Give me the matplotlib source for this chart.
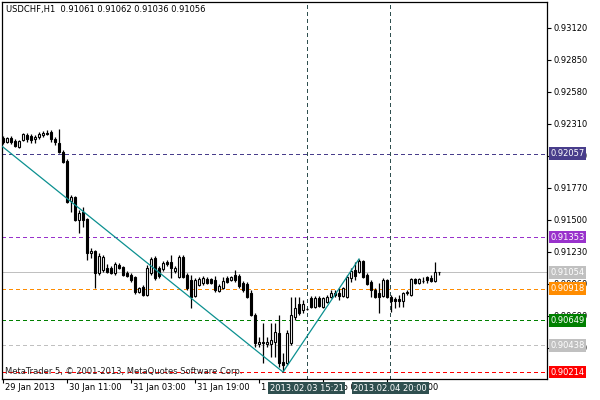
import matplotlib
matplotlib.use("Agg")
import matplotlib.pyplot as plt

# hourly USDCHF candles, oldest first
opens = [0.92189, 0.92156, 0.92189, 0.92164, 0.92113, 0.92172, 0.92215, 0.92206, 0.92181, 0.92198,
         0.92215, 0.92231, 0.92240, 0.92181, 0.92147, 0.92071, 0.91995, 0.91658, 0.91691, 0.91497,
         0.91565, 0.91506, 0.91219, 0.91236, 0.91050, 0.91075, 0.91092, 0.91092, 0.91050, 0.91117,
         0.91101, 0.91050, 0.91033, 0.91016, 0.90890, 0.90932, 0.90864, 0.91050, 0.91177, 0.91092,
         0.91084, 0.91143, 0.91143, 0.91067, 0.91016, 0.91185, 0.91033, 0.90991, 0.90856, 0.90949,
         0.90965, 0.90999, 0.90999, 0.90991, 0.90898, 0.90923, 0.91008, 0.90991, 0.91033, 0.91025,
         0.90965, 0.90957, 0.90881, 0.90695, 0.90451, 0.90468, 0.90451, 0.90451, 0.90468, 0.90544,
         0.90299, 0.90290, 0.90459, 0.90679, 0.90788, 0.90738, 0.90746, 0.90839, 0.90763, 0.90839,
         0.90763, 0.90805, 0.90847, 0.90881, 0.90881, 0.90856, 0.90847, 0.91008, 0.91075, 0.91058,
         0.91151, 0.91033, 0.90974, 0.90906, 0.90881, 0.90856, 0.90991, 0.90847, 0.90830, 0.90830,
         0.90814, 0.90881, 0.90864, 0.90999, 0.90965, 0.90982, 0.91016, 0.91008, 0.90982, 0.91061]
highs = [0.92206, 0.92198, 0.92206, 0.92181, 0.92172, 0.92231, 0.92231, 0.92223, 0.92215, 0.92240,
         0.92248, 0.92257, 0.92257, 0.92198, 0.92265, 0.92088, 0.92012, 0.91708, 0.91700, 0.91582,
         0.91607, 0.91514, 0.91261, 0.91244, 0.91219, 0.91202, 0.91126, 0.91109, 0.91143, 0.91134,
         0.91109, 0.91067, 0.91050, 0.91025, 0.90932, 0.90949, 0.91117, 0.91185, 0.91193, 0.91109,
         0.91151, 0.91160, 0.91202, 0.91109, 0.91202, 0.91202, 0.91050, 0.91033, 0.91008, 0.91016,
         0.91025, 0.91016, 0.91008, 0.91025, 0.90957, 0.91016, 0.91025, 0.91025, 0.91075, 0.91041,
         0.90982, 0.90974, 0.90906, 0.90712, 0.90510, 0.90628, 0.90510, 0.90628, 0.90628, 0.90695,
         0.90375, 0.90569, 0.90847, 0.90847, 0.90847, 0.90822, 0.90754, 0.90856, 0.90856, 0.90856,
         0.90847, 0.90864, 0.90906, 0.90906, 0.90923, 0.90932, 0.91033, 0.91092, 0.91143, 0.91168,
         0.91160, 0.91050, 0.90991, 0.90923, 0.90965, 0.91008, 0.90999, 0.90864, 0.90847, 0.90864,
         0.90890, 0.90906, 0.91008, 0.91008, 0.91008, 0.91016, 0.91025, 0.91033, 0.91143, 0.91062]
lows = [0.92139, 0.92147, 0.92139, 0.92113, 0.92105, 0.92164, 0.92156, 0.92147, 0.92147, 0.92181,
        0.92198, 0.92215, 0.92156, 0.92130, 0.92063, 0.91978, 0.91641, 0.91565, 0.91489, 0.91388,
        0.91438, 0.91160, 0.91177, 0.90923, 0.91033, 0.91058, 0.91050, 0.91041, 0.91033, 0.91084,
        0.91025, 0.91016, 0.90974, 0.90873, 0.90881, 0.90856, 0.90856, 0.91033, 0.90991, 0.91008,
        0.91067, 0.91109, 0.91008, 0.91050, 0.91008, 0.91008, 0.90906, 0.90754, 0.90847, 0.90940,
        0.90949, 0.90957, 0.90957, 0.90890, 0.90890, 0.90915, 0.90965, 0.90982, 0.90974, 0.90923,
        0.90890, 0.90839, 0.90687, 0.90425, 0.90425, 0.90290, 0.90425, 0.90341, 0.90341, 0.90257,
        0.90214, 0.90273, 0.90442, 0.90653, 0.90695, 0.90712, 0.90738, 0.90754, 0.90754, 0.90763,
        0.90754, 0.90797, 0.90839, 0.90847, 0.90822, 0.90847, 0.90839, 0.90974, 0.90991, 0.91050,
        0.91008, 0.90949, 0.90847, 0.90839, 0.90712, 0.90847, 0.90839, 0.90721, 0.90754, 0.90763,
        0.90763, 0.90864, 0.90856, 0.90957, 0.90957, 0.90965, 0.90965, 0.90974, 0.90974, 0.91036]
closes = [0.92156, 0.92189, 0.92156, 0.92122, 0.92164, 0.92223, 0.92181, 0.92172, 0.92198, 0.92223,
          0.92231, 0.92223, 0.92181, 0.92156, 0.92071, 0.91987, 0.91649, 0.91691, 0.91497, 0.91556,
          0.91497, 0.91219, 0.91236, 0.91050, 0.91193, 0.91185, 0.91058, 0.91050, 0.91126, 0.91092,
          0.91033, 0.91025, 0.90991, 0.90890, 0.90923, 0.90864, 0.91092, 0.91168, 0.91008, 0.91025,
          0.91134, 0.91126, 0.91092, 0.91092, 0.91185, 0.91016, 0.90923, 0.90847, 0.90991, 0.90999,
          0.91008, 0.90965, 0.90965, 0.90906, 0.90940, 0.90982, 0.90974, 0.91016, 0.90991, 0.90940,
          0.90906, 0.90847, 0.90695, 0.90459, 0.90468, 0.90459, 0.90468, 0.90484, 0.90552, 0.90290,
          0.90273, 0.90544, 0.90695, 0.90754, 0.90712, 0.90788, 0.90742, 0.90763, 0.90839, 0.90771,
          0.90839, 0.90847, 0.90881, 0.90864, 0.90856, 0.90923, 0.91016, 0.91067, 0.91025, 0.91151,
          0.91016, 0.90957, 0.90906, 0.90847, 0.90847, 0.90991, 0.90847, 0.90814, 0.90814, 0.90814,
          0.90881, 0.90890, 0.90999, 0.90965, 0.90999, 0.90978, 0.90991, 0.90982, 0.91061, 0.91056]

# time axis labels (every 16 bars)
tick_bars = [0, 16, 32, 48, 64, 80, 96]
tick_names = ["29 Jan 2013", "30 Jan 11:00", "31 Jan 03:00", "31 Jan 19:00",
              "1 Feb 11:00", "4 Feb 03:00", "4 Feb 19:00"]
price_ticks = [0.90420, 0.90690, 0.90960, 0.91230, 0.91500, 0.91770,
               0.92040, 0.92310, 0.92580, 0.92850, 0.93120]

# horizontal levels
levels = [0.92057, 0.91353, 0.91054, 0.90918, 0.90649, 0.90438, 0.90214]
level_colors = ["#483D8B", "#9932CC", "#C0C0C0", "#FF8C00", "#008000", "#C0C0C0", "#FF0000"]
level_solid = [False, False, True, False, False, False, False]

# vertical lines
vline_bars = [75.9, 96.8]
vline_names = ["2013.02.03 15:21", "2013.02.04 20:00"]

# zigzag vertices
zz_bars = [-2, 70, 89]
zz_prices = [0.92167, 0.90214, 0.91168]

plt.rcParams['font.family'] = ['DejaVu Sans']
fs = 6

fig = plt.figure(figsize=(6, 4), dpi=100)
ax = fig.add_axes([2/600, 21/400, 545/600, 377/400])
ax.set_xlim(-0.25, 136)
ax.set_ylim(0.90155, 0.93337)

# levels
for p, c, solid in zip(levels, level_colors, level_solid):
    ls = "-" if solid else (0, (4, 3))
    ax.axhline(p, color=c, lw=0.72, ls=ls, zorder=1, antialiased=False)
    ax.text(1.006, p, "%.5f" % p, transform=ax.get_yaxis_transform(), ha="left", va="center",
            fontsize=fs, color="white", clip_on=False, zorder=6,
            bbox=dict(boxstyle="square,pad=0.2", fc=c, ec="none"))

for xb, name in zip(vline_bars, vline_names):
    ax.axvline(xb, color="#2F4F4F", lw=0.72, ls=(0, (4, 3)), zorder=1, antialiased=False)
    ax.text(xb, -0.012, name, transform=ax.get_xaxis_transform(), ha="center", va="top",
            fontsize=fs, color="white", clip_on=False, zorder=6,
            bbox=dict(boxstyle="square,pad=0.2", fc="#2F4F4F", ec="none"))

# candles
idx = list(range(len(opens)))
ax.vlines(idx, lows, highs, color="black", lw=0.9, zorder=2)
bottoms = [min(o, c) for o, c in zip(opens, closes)]
heights = [max(abs(c - o), 0.00002) for o, c in zip(opens, closes)]
fills = ["white" if c >= o else "black" for o, c in zip(opens, closes)]
ax.bar(idx, heights, bottom=bottoms, width=0.62, color=fills, edgecolor="black", lw=0.8, zorder=3)

ax.plot(zz_bars, zz_prices, color="#0B9090", lw=0.9, zorder=4)

# axes look
for s in ax.spines.values():
    s.set_linewidth(0.9)
    s.set_color("black")
ax.yaxis.tick_right()
ax.set_yticks(price_ticks)
ax.set_yticklabels(["%.5f" % v for v in price_ticks])
ax.tick_params(axis="y", direction="out", length=3, width=0.8, pad=1.5, labelsize=fs)
ax.set_xticks(tick_bars)
ax.set_xticklabels([])
ax.tick_params(axis="x", direction="out", length=3, width=0.8)
for b, name in zip(tick_bars, tick_names):
    ax.text(b + 0.4, -0.01, name, transform=ax.get_xaxis_transform(), ha="left", va="top",
            fontsize=fs, clip_on=False, zorder=2)

ax.text(0.008, 0.993, "USDCHF,H1  0.91061 0.91062 0.91036 0.91056", transform=ax.transAxes,
        ha="left", va="top", fontsize=fs)
ax.text(0.005, 0.02, "MetaTrader 5, \u00a9 2001-2013, MetaQuotes Software Corp.", transform=ax.transAxes,
        ha="left", va="center", fontsize=fs, color="#202020", zorder=5)

fig.savefig("out.png", dpi=100)
